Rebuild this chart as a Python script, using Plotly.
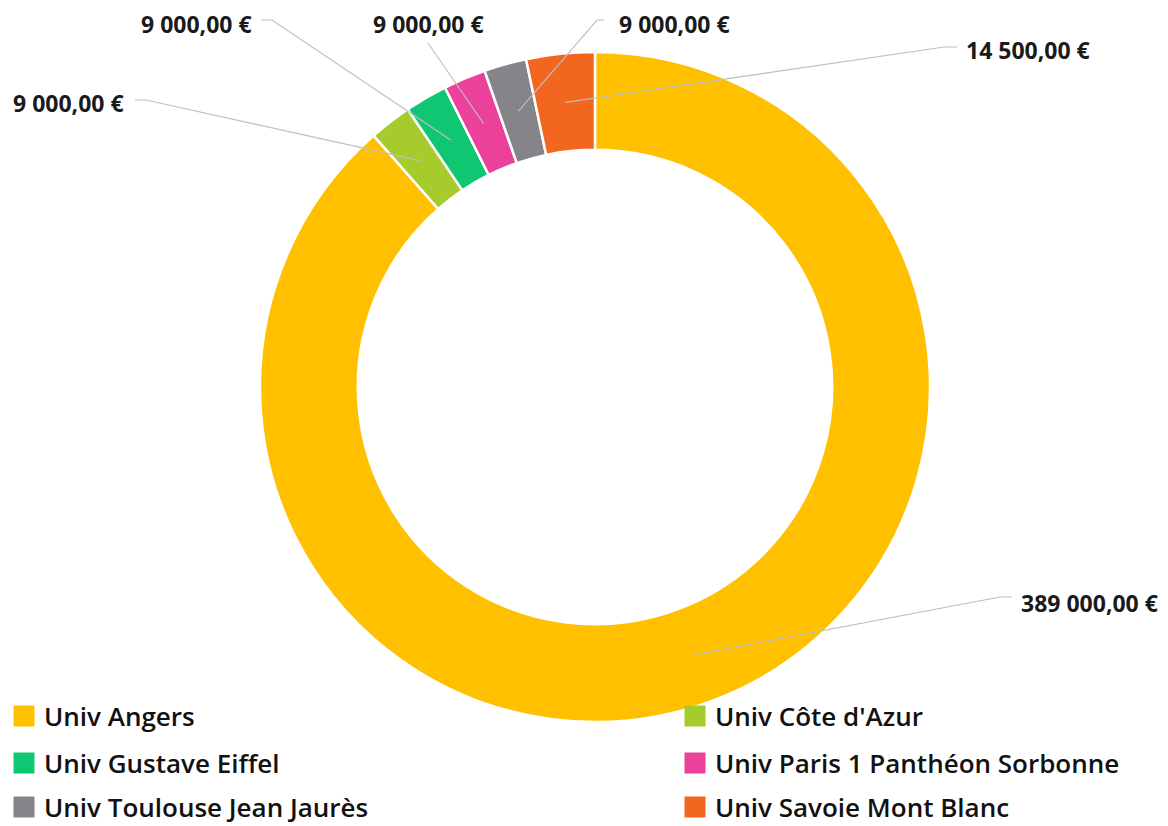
import math
import plotly.graph_objects as go

# ---- data ----
universities = [
    "Univ Angers",
    "Univ Côte d'Azur",
    "Univ Gustave Eiffel",
    "Univ Paris 1 Panthéon Sorbonne",
    "Univ Toulouse Jean Jaurès",
    "Univ Savoie Mont Blanc",
]
amounts = [389000, 9000, 9000, 9000, 9000, 14500]
value_labels = ["389 000,00 €", "9 000,00 €", "9 000,00 €", "9 000,00 €", "9 000,00 €", "14 500,00 €"]
colors = ["#FFC000", "#A5CB2D", "#0FC772", "#EC419A", "#858589", "#F2661F"]

# ---- layout constants (pixels) ----
W, H = 1168, 826
CX, CY, R = 595, 387, 335
HOLE = 0.708

# label text positions (left x, center y) and leader-line points near label
label_text_pos = [(1019, 603), (11, 103), (139, 24), (371, 24), (617, 24), (964, 50)]
label_elbows = [
    [(1012, 597), (1000, 597)],
    [(135, 100), (146, 100)],
    [(261, 20), (272, 20)],
    [(428, 43)],
    [(604, 20), (597, 20)],
    [(957, 47), (944, 47)],
]
# legend entry positions (text left x, center y)
legend_pos = [(45, 716), (716, 716), (45, 763), (716, 763), (45, 807), (716, 807)]


def px_to_paper(x, y):
    return x / W, 1 - y / H


fig = go.Figure()
fig.add_trace(go.Pie(
    labels=universities,
    values=amounts,
    sort=False,
    direction="clockwise",
    rotation=0,
    hole=HOLE,
    marker=dict(colors=colors, line=dict(color="white", width=2.5)),
    textinfo="none",
    showlegend=False,
    domain=dict(x=[(CX - R) / W, (CX + R) / W], y=[1 - (CY + R) / H, 1 - (CY - R) / H]),
))

# leader lines from slice middles (computed from the data) to labels
total = sum(amounts)
cum = 0
r_mid = R * (1 + HOLE) / 2
shapes = []
annotations = []
for i, v in enumerate(amounts):
    mid = (cum + v / 2) / total * 2 * math.pi
    cum += v
    sx = CX + r_mid * math.sin(mid)
    sy = CY - r_mid * math.cos(mid)
    pts = list(label_elbows[i]) + [(sx, sy)]
    path = ""
    for j, (x, y) in enumerate(pts):
        px, py = px_to_paper(x, y)
        path += ("M" if j == 0 else " L") + f"{px:.5f},{py:.5f}"
    shapes.append(dict(type="path", path=path, xref="paper", yref="paper",
                       line=dict(color="#BFBFBF", width=1.2)))
    tx, ty = px_to_paper(*label_text_pos[i])
    annotations.append(dict(
        x=tx, y=ty, xref="paper", yref="paper", xanchor="left", yanchor="middle",
        text=value_labels[i], showarrow=False,
        font=dict(family="Open Sans", size=23, color="#1A1A1A", weight=700),
    ))

# legend entries, one small legend each
legend_layouts = {}
for k, (name, col) in enumerate(zip(universities, colors)):
    key = "legend" if k == 0 else f"legend{k + 1}"
    fig.add_trace(go.Scatter(
        x=[None], y=[None], mode="markers", name=name,
        marker=dict(symbol="square", size=16, color=col, line=dict(color=col, width=5)),
        legend=key, hoverinfo="skip",
    ))
    lx, ly = legend_pos[k]
    legend_layouts[key] = dict(
        orientation="h", xanchor="left", yanchor="middle",
        x=(lx - 41) / W, y=1 - ly / H, itemsizing="trace",
        font=dict(family="Open Sans", size=26, color="#111111", weight=600),
        bgcolor="rgba(0,0,0,0)",
    )

fig.update_layout(
    width=W, height=H,
    margin=dict(l=0, r=0, t=0, b=0, autoexpand=False),
    paper_bgcolor="white", plot_bgcolor="white",
    xaxis=dict(visible=False), yaxis=dict(visible=False),
    shapes=shapes, annotations=annotations,
    **legend_layouts,
)

fig.write_html(
    "out.html",
    config={"displayModeBar": False},
    post_script="document.body.style.margin='0';document.body.style.padding='0';"
                "document.body.style.overflow='hidden';",
)
